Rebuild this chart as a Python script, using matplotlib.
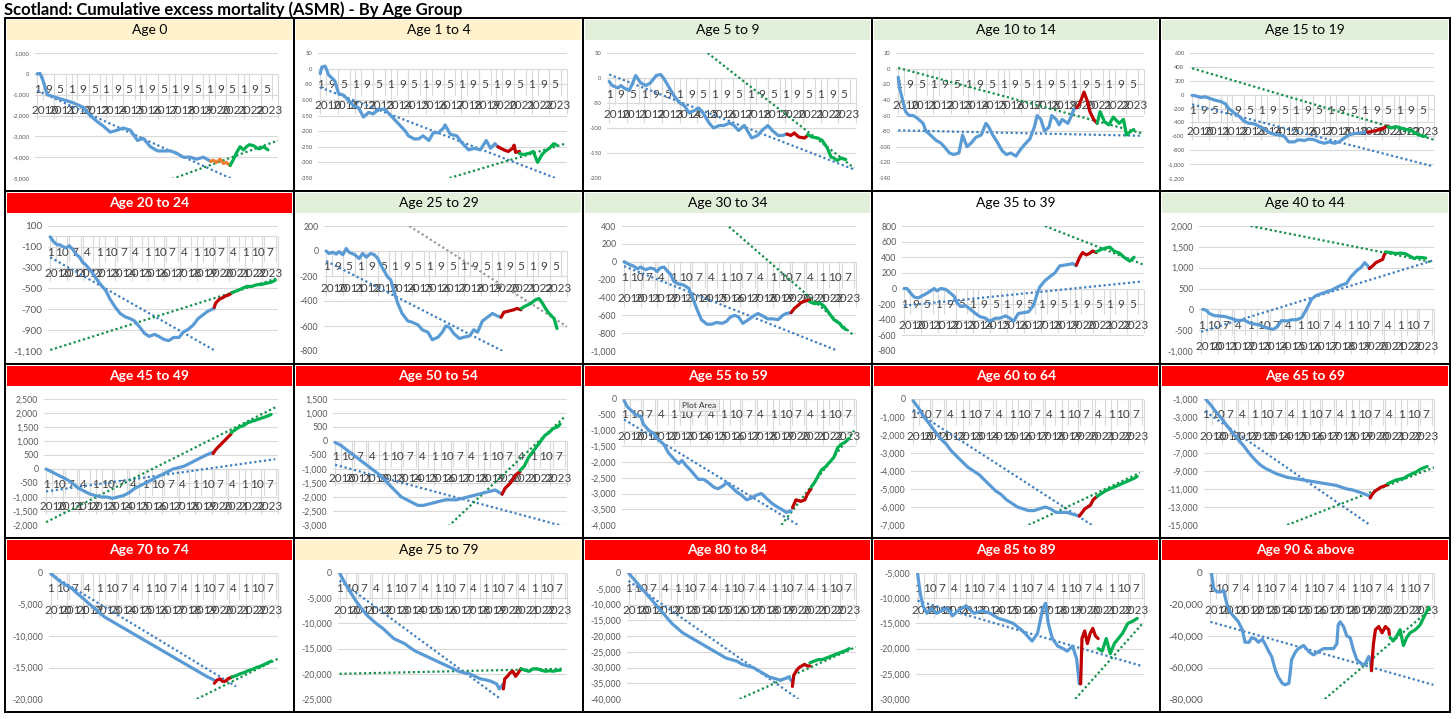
import matplotlib
matplotlib.use("Agg")
import matplotlib.pyplot as plt
from matplotlib.patches import Rectangle
from matplotlib.transforms import offset_copy

plt.rcParams["font.family"] = ["Lato", "DejaVu Sans"]

W, H, DPI = 1456, 719, 100
TITLE = "Scotland: Cumulative excess mortality (ASMR) - By Age Group"

# x values are months since Jan 2010 (weekly series in the original)
panels = [
    "Age 0", "Age 1 to 4", "Age 5 to 9", "Age 10 to 14", "Age 15 to 19",
    "Age 20 to 24", "Age 25 to 29", "Age 30 to 34", "Age 35 to 39", "Age 40 to 44",
    "Age 45 to 49", "Age 50 to 54", "Age 55 to 59", "Age 60 to 64", "Age 65 to 69",
    "Age 70 to 74", "Age 75 to 79", "Age 80 to 84", "Age 85 to 89", "Age 90 & above",
]

header_color = {
    "Age 0": "yellow", "Age 1 to 4": "yellow", "Age 5 to 9": "green",
    "Age 10 to 14": "green", "Age 15 to 19": "green",
    "Age 20 to 24": "red", "Age 25 to 29": "green", "Age 30 to 34": "green",
    "Age 35 to 39": "white", "Age 40 to 44": "green",
    "Age 45 to 49": "red", "Age 50 to 54": "red", "Age 55 to 59": "red",
    "Age 60 to 64": "red", "Age 65 to 69": "red",
    "Age 70 to 74": "red", "Age 75 to 79": "yellow", "Age 80 to 84": "red",
    "Age 85 to 89": "red", "Age 90 & above": "red",
}

# month interval of the category labels (8 -> "1 9 5", 9 -> "1 10 7 4")
label_interval = {
    "Age 0": 8, "Age 1 to 4": 8, "Age 5 to 9": 8, "Age 10 to 14": 8, "Age 15 to 19": 8,
    "Age 20 to 24": 9, "Age 25 to 29": 8, "Age 30 to 34": 9, "Age 35 to 39": 8,
    "Age 40 to 44": 9,
    "Age 45 to 49": 9, "Age 50 to 54": 9, "Age 55 to 59": 9, "Age 60 to 64": 9,
    "Age 65 to 69": 9,
    "Age 70 to 74": 9, "Age 75 to 79": 9, "Age 80 to 84": 9, "Age 85 to 89": 9,
    "Age 90 & above": 9,
}

# (top, bottom, step) of the value axis
yaxis = {
    "Age 0": (1000, -5000, 1000), "Age 1 to 4": (50, -350, 50),
    "Age 5 to 9": (50, -200, 50), "Age 10 to 14": (20, -140, 20),
    "Age 15 to 19": (600, -1200, 200),
    "Age 20 to 24": (100, -1100, 200), "Age 25 to 29": (200, -800, 200),
    "Age 30 to 34": (400, -1000, 200), "Age 35 to 39": (800, -800, 200),
    "Age 40 to 44": (2000, -1000, 500),
    "Age 45 to 49": (2500, -2000, 500), "Age 50 to 54": (1500, -3000, 500),
    "Age 55 to 59": (0, -4000, 500), "Age 60 to 64": (0, -7000, 1000),
    "Age 65 to 69": (-1000, -15000, 2000),
    "Age 70 to 74": (0, -20000, 5000), "Age 75 to 79": (0, -25000, 5000),
    "Age 80 to 84": (0, -40000, 5000), "Age 85 to 89": (-5000, -30000, 5000),
    "Age 90 & above": (0, -80000, 20000),
}

blue = {
    "Age 0": [(0, 0), (2, 20), (4, -300), (7, -1000), (11.6, -1100), (16, -1200), (21, -1300),
              (25.5, -1400), (32, -1600), (37, -2000), (42, -2300), (46, -2500), (51, -2800),
              (56, -2700), (60, -2600), (65, -2700), (70, -3200), (74, -3100), (79, -3500),
              (84, -3700), (88, -3700), (93, -3700), (97, -3800), (102, -4000), (107, -4000),
              (111, -4100), (116, -4000), (121, -4200)],
    "Age 1 to 4": [(0, -16), (1.1, 5), (3.4, 8), (5.7, -20), (8, -30), (10, -40), (12.5, -80),
                   (16, -85), (19, -100), (23, -120), (26, -125), (29.5, -155), (33, -140),
                   (36, -145), (40, -130), (44, -130), (48, -150), (51, -165), (54, -180),
                   (58, -200), (60, -215), (64, -225), (67, -225), (70, -215), (74, -230),
                   (77, -205), (80.5, -205), (84, -190), (85, -180), (88.5, -210), (93, -215),
                   (96, -235), (101, -260), (105, -255), (109, -260), (113, -230), (116, -255),
                   (119, -240), (121, -250)],
    "Age 5 to 9": [(0, -7), (2, -15), (6, -20), (8, -15), (10, -20), (13.6, -25), (16, -10),
                   (18, 5), (21.5, -10), (25, -15), (28, -10), (32, 5), (35, 7), (37, 0),
                   (41, -20), (44, -35), (48, -50), (51, -55), (54.5, -70), (58, -65), (61, -60),
                   (65, -75), (68, -90), (71, -100), (75, -95), (78, -95), (82, -90), (85, -95),
                   (88, -105), (92, -95), (95, -110), (97, -120), (101, -115), (104, -105),
                   (108, -95), (111, -105), (115, -115), (118, -115), (121, -112)],
    "Age 10 to 14": [(0, -11), (1, -25), (3, -40), (5, -55), (7.5, -60), (10, -60), (12, -62),
                     (14, -65), (17, -70), (19, -80), (22, -85), (26, -92), (29, -95),
                     (31.5, -100), (35, -108), (38, -110), (41.5, -108), (44, -85), (47, -100),
                     (50, -95), (53, -88), (56.7, -85), (60, -70), (62, -75), (64.6, -85),
                     (68, -95), (71, -105), (74, -110), (77, -108), (80.5, -112), (83, -105),
                     (86, -98), (90, -90), (93, -75), (95, -60), (97.5, -65), (100, -80),
                     (103, -75), (105, -60), (108, -65), (110, -72), (112, -65), (116, -70),
                     (118, -62), (120, -52), (122, -50)],
    "Age 15 to 19": [(0, -10), (2, -15), (6, -40), (9, -30), (13, -60), (16, -80), (20, -100),
                     (23, -130), (25.5, -200), (29, -260), (32.5, -310), (36, -380), (39, -410),
                     (43, -420), (46, -450), (50, -490), (53, -540), (57, -570), (60, -580),
                     (64, -600), (67, -680), (71, -680), (74, -650), (78, -660), (81, -640),
                     (85, -650), (88, -680), (92, -700), (95, -680), (99, -700), (102, -680),
                     (106, -620), (109, -580), (112.5, -560), (117, -550), (122, -540)],
    "Age 20 to 24": [(0, -5), (2.4, -50), (5, -80), (7, -80), (9.6, -100), (12, -110), (14, -90),
                     (17, -130), (19, -170), (21.6, -200), (24, -250), (26, -270), (30, -330),
                     (33.6, -400), (37, -460), (41, -520), (44, -600), (48, -680), (51.6, -740),
                     (55, -770), (59, -790), (62, -810), (66, -870), (69.5, -930), (73, -960),
                     (77, -940), (80, -960), (84, -990), (87.5, -1000), (91, -970), (95, -970),
                     (98, -920), (102, -890), (105.5, -850), (109, -790), (113, -750),
                     (116, -720), (121, -690)],
    "Age 25 to 29": [(0, 0), (2, -20), (4.6, -10), (7, -25), (9, -5), (11.6, -30), (14, 20),
                     (16, -10), (20, -30), (23, -60), (25.5, -20), (28, -50), (31, -20),
                     (33.6, -30), (36, -60), (39, -130), (43, -210), (45, -230), (47.5, -330),
                     (50, -420), (53, -500), (57, -560), (60, -570), (64, -590), (67, -630),
                     (71, -650), (74, -710), (78, -690), (81, -650), (83.5, -600), (86, -610),
                     (89, -660), (93, -700), (96, -690), (100, -680), (103, -630), (105.6, -650),
                     (109, -560), (112.5, -530), (116, -500), (119.5, -520), (122, -530)],
    "Age 30 to 34": [(0, 0), (3.6, -30), (7, -50), (9.6, -80), (12, -60), (15.6, -90), (19, -70),
                     (21.6, -80), (24, -110), (26, -70), (29, -60), (31, -100), (33.6, -140),
                     (36, -220), (39.5, -250), (43, -260), (47, -300), (50, -420), (53, -540),
                     (56, -650), (60, -700), (63.5, -700), (67, -680), (71, -690), (74, -670),
                     (77, -620), (80, -600), (83, -620), (86, -690), (90, -650), (93.5, -610),
                     (97, -580), (100.7, -610), (104, -640), (108, -640), (111.5, -650),
                     (115, -600), (117.5, -580), (121, -570)],
    "Age 35 to 39": [(0, 0), (2, 0), (4.6, -60), (7, -110), (10, -120), (14, -80), (17, -50),
                     (21, 0), (23, -30), (25.5, 0), (29, -10), (32.5, -60), (35, -100),
                     (37, -180), (39.5, -230), (43, -220), (46, -260), (50, -320), (53, -360),
                     (57, -380), (60, -420), (64, -380), (67, -380), (71, -350), (74, -380),
                     (76.6, -420), (80, -320), (83.5, -310), (87, -300), (90.5, -220), (93, -80),
                     (95, 20), (98.6, 100), (102, 150), (105.6, 200), (109, 290), (112.5, 300),
                     (116, 310), (118, 320), (120.6, 290)],
    "Age 40 to 44": [(1.2, 0), (3.6, -20), (6, -100), (9.5, -150), (13, -160), (16.7, -170),
                     (20, -200), (24, -240), (27, -280), (31, -250), (34.5, -320), (38, -350),
                     (41.7, -370), (45, -420), (49, -460), (52, -480), (55, -420), (58, -270),
                     (62, -280), (65.5, -250), (69, -250), (72.6, -200), (76, 0), (79.8, 250),
                     (83, 330), (87, 380), (90.5, 420), (94, 460), (97.6, 520), (101, 580),
                     (104.8, 620), (108, 780), (112, 920), (115.5, 1010), (118, 1120),
                     (120, 1050), (121.4, 980)],
    "Age 45 to 49": [(0, 0), (4, -100), (8, -200), (12, -300), (16, -400), (20, -550), (24, -700),
                     (28, -800), (32, -900), (36, -950), (40, -1000), (44, -1000), (48, -1050),
                     (52, -1000), (56, -950), (60, -850), (64, -700), (68, -600), (72, -500),
                     (76, -400), (80, -300), (84, -200), (88, -100), (92, 0), (96, 50),
                     (100, 100), (104, 200), (108, 300), (112, 400), (116, 500), (121, 600)],
    "Age 50 to 54": [(0, -50), (4, -150), (8, -300), (12, -450), (16, -600), (20, -750),
                     (24, -900), (28, -1050), (32, -1200), (36, -1400), (40, -1600), (44, -1800),
                     (48, -2000), (52, -2100), (56, -2200), (60, -2300), (64, -2300),
                     (68, -2250), (72, -2200), (76, -2150), (80, -2100), (84, -2100),
                     (88, -2100), (92, -2050), (96, -2000), (100, -1950), (104, -1900),
                     (108, -1850), (112, -1800), (116, -1750), (121, -1900)],
    "Age 55 to 59": [(0, -50), (2.4, -250), (4.8, -350), (8.4, -500), (12, -550), (14, -800),
                     (18, -1000), (21.6, -1100), (25, -1300), (29, -1450), (32, -1700),
                     (36, -1900), (39.6, -2050), (42, -1950), (44.6, -2100), (48, -2250),
                     (51.8, -2450), (54, -2550), (57.6, -2550), (61, -2650), (65, -2800),
                     (68, -2850), (72, -2750), (74, -2650), (78, -2800), (81.5, -2950),
                     (85, -3050), (88.7, -3200), (92, -3150), (96, -3050), (99.5, -3000),
                     (103, -3150), (106.7, -3300), (110, -3400), (114, -3500), (117.5, -3600),
                     (121, -3550)],
    "Age 60 to 64": [(0, -100), (4, -500), (8, -1000), (12, -1400), (16, -1800), (20, -2200),
                     (24, -2500), (28, -2900), (32, -3200), (36, -3500), (40, -3800),
                     (44, -4000), (48, -4200), (52, -4500), (56, -4800), (60, -5100),
                     (64, -5300), (68, -5600), (72, -5800), (76, -6000), (80, -6100),
                     (84, -6200), (88, -6200), (92, -6100), (96, -6000), (100, -6100),
                     (104, -6300), (108, -6300), (112, -6300), (116, -6400), (121, -6500)],
    "Age 65 to 69": [(0, -1000), (4, -1700), (8, -2500), (12, -3200), (16, -4000), (20, -4800),
                     (24, -5500), (28, -6200), (32, -7000), (36, -7700), (40, -8300),
                     (44, -8700), (48, -9000), (52, -9300), (56, -9500), (60, -9700),
                     (64, -9800), (68, -9900), (72, -10000), (76, -10100), (80, -10200),
                     (84, -10300), (88, -10400), (92, -10500), (96, -10600), (100, -10800),
                     (104, -11000), (108, -11100), (112, -11300), (116, -11500), (121, -11800)],
    "Age 70 to 74": [(0, 0), (4, -800), (8, -1500), (12, -2000), (16, -2500), (20, -3300),
                     (24, -4000), (28, -4800), (32, -5500), (36, -6300), (40, -7000),
                     (44, -7500), (48, -8000), (52, -8500), (56, -9000), (60, -9500),
                     (64, -10000), (68, -10500), (72, -11000), (76, -11500), (80, -12000),
                     (84, -12500), (88, -13000), (92, -13500), (96, -14000), (100, -14500),
                     (104, -15000), (108, -15500), (112, -16000), (116, -16500), (121, -17000)],
    "Age 75 to 79": [(0, 0), (4, -2000), (8, -3800), (12, -5500), (16, -7000), (20, -8300),
                     (24, -9300), (28, -10200), (32, -11000), (36, -12000), (40, -13000),
                     (44, -13500), (48, -14000), (52, -14800), (56, -15500), (60, -16000),
                     (64, -16500), (68, -17000), (72, -17500), (76, -18000), (80, -18500),
                     (84, -19000), (88, -19500), (92, -19800), (96, -20000), (100, -20500),
                     (104, -21000), (108, -21200), (112, -21500), (116, -22000), (118, -23000),
                     (121, -22000)],
    "Age 80 to 84": [(0, 0), (4, -2000), (8, -4000), (12, -6000), (16, -8000), (20, -10000),
                     (24, -12000), (28, -14000), (32, -16000), (36, -17500), (40, -19000),
                     (44, -20000), (48, -21000), (52, -22000), (56, -23000), (60, -24000),
                     (64, -25000), (68, -26000), (72, -27000), (76, -27500), (80, -28000),
                     (84, -29000), (88, -29500), (92, -30000), (96, -31000), (100, -32000),
                     (104, -33000), (108, -33500), (112, -34000), (116, -33500), (118, -33000),
                     (121, -34500)],
    "Age 85 to 89": [(0, -5000), (2, -9000), (4, -11500), (7, -13000), (10, -12000),
                     (14, -13000), (18, -12500), (22, -12000), (26, -13500), (30, -12500),
                     (36, -11500), (42, -13000), (48, -12500), (54, -13000), (60, -14000),
                     (66, -14500), (71, -15000), (78, -16500), (85, -18500), (89, -17000),
                     (93, -12000), (95, -11000), (97, -15000), (100, -18000), (104, -19500),
                     (108, -20000), (111, -20500), (115, -19500), (118, -22000), (120, -27000),
                     (121, -25000)],
    "Age 90 & above": [(0.8, 0), (2.5, -10000), (5, -12000), (7.5, -12000), (10, -11000),
                       (11, -15000), (12.5, -20000), (15, -25000), (19, -29000), (21, -31000),
                       (24, -36000), (26, -44000), (29, -44000), (31, -41000), (34, -42000),
                       (36, -44000), (39, -42000), (41, -45000), (44, -50000), (46, -53000),
                       (49, -62000), (51, -66000), (54, -70000), (56, -71000), (59, -70000),
                       (60, -63000), (61, -55000), (64, -50000), (66, -48000), (70, -46000),
                       (74, -50000), (77.5, -52000), (81, -50000), (85, -48000), (89, -48000),
                       (92.5, -48000), (95, -45000), (96, -33000), (97.5, -31000),
                       (100, -34000), (102.5, -40000), (105, -41000), (107.5, -49000),
                       (110, -55000), (114, -58000), (116, -58000), (119, -53000),
                       (120, -55000), (121, -62000)],
}

red = {
    "Age 0": [(121, -4200), (123, -4150), (125, -4250), (127.6, -4100), (130, -4300),
              (132, -4250), (134.6, -4400)],
    "Age 1 to 4": [(121, -250), (125, -260), (128, -265), (131, -255), (132, -245), (133, -268),
                   (135.6, -265)],
    "Age 5 to 9": [(121, -112), (123.6, -115), (126, -110), (129, -118), (133, -120),
                   (135, -115)],
    "Age 10 to 14": [(122, -50), (124, -45), (127, -30), (129, -40), (131, -55), (133.6, -65),
                     (136, -70)],
    "Age 15 to 19": [(122, -540), (125, -530), (129, -510), (131, -500), (133, -480),
                     (136, -450)],
    "Age 20 to 24": [(121, -680), (122, -640), (125, -600), (127, -590), (129.5, -570),
                     (132, -560), (134, -540)],
    "Age 25 to 29": [(122, -530), (124, -490), (127.6, -480), (131, -470), (133, -460),
                     (136, -470)],
    "Age 30 to 34": [(121, -570), (123.5, -520), (126, -490), (128, -460), (131, -440),
                     (134.5, -430)],
    "Age 35 to 39": [(120.6, 300), (123, 400), (125, 460), (127.6, 430), (130, 450),
                     (132, 480), (134.6, 460)],
    "Age 40 to 44": [(121.4, 980), (124, 1050), (126, 1120), (128.6, 1160), (131, 1200),
                     (132, 1300), (133, 1360)],
    "Age 45 to 49": [(121, 550), (123, 700), (125, 800), (127, 900), (129, 1000), (131, 1100),
                     (134, 1250)],
    "Age 50 to 54": [(121, -1900), (123, -1700), (125, -1600), (127, -1500), (129, -1350),
                     (131, -1200), (134, -1100)],
    "Age 55 to 59": [(122, -3450), (124.5, -3200), (128, -3250), (131, -3200), (133, -3000),
                     (135.5, -2850)],
    "Age 60 to 64": [(121, -6500), (123, -6300), (125, -6100), (127, -6000), (129, -5900),
                     (131, -5600), (134, -5400)],
    "Age 65 to 69": [(121, -12000), (123, -11500), (125, -11200), (127, -11000),
                     (129, -10800), (131, -10700), (134, -10500)],
    "Age 70 to 74": [(121, -17500), (123, -17000), (125, -16800), (127, -17200),
                     (129, -17200), (131, -16800), (134, -16500)],
    "Age 75 to 79": [(121, -23000), (122, -21000), (124, -20500), (126, -19800),
                     (128, -19500), (130, -20500), (132, -19800), (134, -19000)],
    "Age 80 to 84": [(121, -36000), (122, -32500), (124, -31000), (126, -30000),
                     (128, -29500), (130, -29000), (132, -29500), (134, -29500)],
    "Age 85 to 89": [(121, -27000), (122, -18000), (124, -16500), (126, -19000),
                     (128, -17000), (130, -16000), (132, -17500), (134, -18000)],
    "Age 90 & above": [(121, -62000), (122.5, -45000), (124, -36000), (126.5, -34000),
                       (129, -38000), (131.5, -34000), (134, -36000), (134.5, -39000)],
}

green = {
    "Age 0": [(134.6, -4400), (137, -4100), (139, -3800), (141.5, -3500), (144, -3650),
              (146, -3500), (148, -3400), (151, -3450), (153, -3550), (155, -3600),
              (158, -3500), (161, -3650)],
    "Age 1 to 4": [(135.6, -272), (138.5, -275), (143, -270), (145, -265), (148, -300),
                   (151, -275), (153, -265), (156, -255), (159, -240), (161, -245)],
    "Age 5 to 9": [(135, -113), (138, -118), (142, -120), (145, -125), (148.5, -140),
                   (151, -158), (153, -160), (155, -165), (158, -160), (161, -163)],
    "Age 10 to 14": [(136, -70), (138, -55), (141, -68), (144, -72), (147, -62), (151, -70),
                     (154, -65), (156, -85), (159, -80), (161, -78)],
    "Age 15 to 19": [(136, -460), (138, -480), (141.5, -460), (145, -480), (148.5, -500),
                     (152, -510), (155.5, -560), (159, -590), (162, -600)],
    "Age 20 to 24": [(134, -540), (138, -520), (141.5, -500), (145, -480), (148.7, -480),
                     (152, -465), (156, -460), (159.5, -450), (163, -440), (166, -420)],
    "Age 25 to 29": [(136, -460), (139, -440), (142.7, -420), (146, -390), (148.5, -380),
                     (151, -420), (153, -460), (155.5, -500), (159, -540), (161, -620)],
    "Age 30 to 34": [(134.5, -450), (138, -470), (141.5, -460), (145, -500), (148.7, -580),
                     (152, -650), (156, -690), (158, -730), (160.7, -760)],
    "Age 35 to 39": [(134.6, 470), (138, 500), (141.5, 520), (144, 530), (147, 480),
                     (151, 450), (154, 400), (158, 350), (160, 380), (161, 400)],
    "Age 40 to 44": [(133, 1380), (137, 1360), (140.5, 1340), (144, 1350), (147.6, 1330),
                     (151, 1270), (153.6, 1220), (156, 1250), (159.5, 1240), (162, 1230)],
    "Age 45 to 49": [(134, 1300), (137, 1400), (140, 1500), (143, 1550), (146, 1650),
                     (149, 1700), (152, 1750), (155, 1800), (158, 1850), (161, 1900),
                     (163, 1950)],
    "Age 50 to 54": [(134, -1050), (137, -900), (140, -600), (143, -400), (146, -200),
                     (149, 0), (152, 200), (155, 300), (158, 450), (161, 500), (163, 600)],
    "Age 55 to 59": [(135.5, -2800), (138, -2650), (140.5, -2450), (143, -2250), (146, -2150),
                     (150, -1950), (152, -1850), (154.7, -1550), (157, -1450),
                     (160.7, -1350), (163, -1250)],
    "Age 60 to 64": [(134, -5400), (137, -5250), (140, -5100), (143, -5000), (146, -4900),
                     (149, -4800), (152, -4700), (155, -4600), (158, -4500), (161, -4400),
                     (163, -4300)],
    "Age 65 to 69": [(134, -10400), (137, -10200), (140, -10000), (143, -9900), (146, -9800),
                     (149, -9500), (152, -9300), (155, -9100), (158, -8800), (161, -8600),
                     (163, -8500)],
    "Age 70 to 74": [(134, -16500), (137, -16300), (140, -16000), (143, -15800),
                     (146, -15500), (149, -15300), (152, -15000), (155, -14800),
                     (158, -14500), (161, -14200), (163, -14000)],
    "Age 75 to 79": [(134, -19000), (137, -19300), (140, -19500), (143, -19000),
                     (146, -19000), (149, -19300), (152, -19500), (155, -19400),
                     (158, -19500), (161, -19300), (163, -19300)],
    "Age 80 to 84": [(134, -28500), (137, -28000), (140, -27500), (143, -27500),
                     (146, -27000), (149, -26500), (152, -26000), (155, -25500),
                     (158, -25000), (161, -24500), (163, -24000)],
    "Age 85 to 89": [(134, -20000), (137, -20500), (140, -18000), (143, -21000),
                     (146, -19000), (149, -18000), (152, -17000), (156, -15000),
                     (160, -14500), (163, -14000)],
    "Age 90 & above": [(135, -41000), (137.5, -43000), (140, -40000), (142.5, -36000),
                       (145, -46000), (147.5, -41000), (150, -38000), (154, -36000),
                       (157.5, -33000), (161, -27000), (164, -22000)],
}

# linear trend lines, (start, end) as (month, value)
trend_blue = {
    "Age 0": [(0, -800), (136, -5050)], "Age 1 to 4": [(0, -60), (160, -350)],
    "Age 5 to 9": [(0, 7), (166.7, -183)], "Age 10 to 14": [(0, -79), (167, -86)],
    "Age 15 to 19": [(0, -140), (167, -1030)],
    "Age 20 to 24": [(0, -200), (122, -1100)], "Age 25 to 29": [(0, -80), (123, -800)],
    "Age 30 to 34": [(0, -50), (153.5, -990)], "Age 35 to 39": [(0, -220), (167, 90)],
    "Age 40 to 44": [(0, -540), (167, 1170)],
    "Age 45 to 49": [(0, -800), (166, 350)], "Age 50 to 54": [(0, -850), (166, -3050)],
    "Age 55 to 59": [(0, -650), (126, -4000)], "Age 60 to 64": [(0, -600), (130, -7000)],
    "Age 65 to 69": [(0, -2400), (121, -15000)],
    "Age 70 to 74": [(0, -200), (137, -18000)], "Age 75 to 79": [(0, -1500), (119, -25000)],
    "Age 80 to 84": [(0, -2500), (125.5, -40000)],
    "Age 85 to 89": [(0, -10500), (167, -23500)],
    "Age 90 & above": [(0, -31000), (167.5, -71000)],
}

trend_green = {
    "Age 0": [(94, -5050), (168, -3200)], "Age 1 to 4": [(88, -350), (167, -240)],
    "Age 5 to 9": [(67, 50), (166.7, -180)], "Age 10 to 14": [(0, 1), (167, -83)],
    "Age 15 to 19": [(0, 380), (168, -650)],
    "Age 20 to 24": [(0, -1090), (168, -400)], "Age 25 to 29": [(58, 200), (168, -605)],
    "Age 30 to 34": [(68, 500), (166.7, -830)], "Age 35 to 39": [(98.6, 800), (167, 310)],
    "Age 40 to 44": [(35.7, 2000), (167, 1130)],
    "Age 45 to 49": [(0, -1900), (166, 2200)], "Age 50 to 54": [(82, -3050), (166, 850)],
    "Age 55 to 59": [(114, -4000), (166.7, -1000)], "Age 60 to 64": [(84, -7000), (165, -4100)],
    "Age 65 to 69": [(60, -15000), (168, -8600)],
    "Age 70 to 74": [(108, -20000), (169, -13500)], "Age 75 to 79": [(0, -20000), (165, -19000)],
    "Age 80 to 84": [(82, -40000), (168, -23500)], "Age 85 to 89": [(117, -30000), (167, -15000)],
    "Age 90 & above": [(86, -80000), (166, -22500)],
}

years = list(range(2010, 2024))

# ---------------------------------------------------------------- styling
C_BLUE = "#5B9BD5"
C_RED = "#C00000"
C_GREEN = "#00B050"
C_ORANGE = "#ED7D31"
C_TBLUE = "#3F7FC0"
C_TGREEN = "#14904A"
C_GRID = "#D9D9D9"
C_TXT = "#595959"
C_CAT = "#404040"
HEADER_FILL = {"yellow": "#FFF2CC", "green": "#E2EFDA", "red": "#FF0000", "white": "#FFFFFF"}

col_edges = [5, 294, 583, 872, 1160, 1450]
row_edges = [18, 191, 364, 538, 712]

fig = plt.figure(figsize=(W / DPI, H / DPI), dpi=DPI)
fig.patch.set_facecolor("white")


def fx(x):
    return x / W


def fy(y):
    return 1 - y / H


fig.text(fx(4), fy(10), TITLE, fontsize=12, fontweight="bold", ha="left", va="center")

for i, name in enumerate(panels):
    r, c = divmod(i, 5)
    x0, x1 = col_edges[c], col_edges[c + 1]
    y0, y1 = row_edges[r], row_edges[r + 1]

    fig.patches.append(Rectangle((fx(x0), fy(y1)), (x1 - x0) / W, (y1 - y0) / H,
                                 transform=fig.transFigure, fc="white", ec="black",
                                 lw=1.4, zorder=-3))
    kind = header_color[name]
    fig.patches.append(Rectangle((fx(x0 + 2), fy(y0 + 22)), (x1 - x0 - 4) / W, 20 / H,
                                 transform=fig.transFigure, fc=HEADER_FILL[kind],
                                 ec="none", zorder=-2))
    fig.text(fx((x0 + x1) / 2), fy(y0 + 12), name, ha="center", va="center",
             fontsize=10, color="white" if kind == "red" else "black",
             fontweight="bold" if kind == "red" else "normal", zorder=2)

    top, bot, step = yaxis[name]
    ticks = list(range(top, bot - 1, -step))
    tick_labels = [f"{t:,}" for t in ticks]
    nchar = max(len(s) for s in tick_labels)
    if r == 0:
        ysize, inset = 4.2, 12 + 3.0 * nchar
    elif name in ("Age 20 to 24", "Age 90 & above"):
        ysize, inset = 7.2, 12 + 5.2 * nchar
    else:
        ysize, inset = 6.3, 12 + 4.5 * nchar

    left, right = x0 + inset, x1 - 16
    ptop, pbot = y0 + 35, y1 - 13
    ax = fig.add_axes([fx(left), fy(pbot), (right - left) / W, (pbot - ptop) / H])
    ax.set_xlim(-1.5, 168)
    ax.set_ylim(bot, top)
    ax.set_yticks(ticks)
    ax.set_yticklabels(tick_labels, fontsize=ysize, color=C_TXT)
    ax.set_xticks([])
    ax.tick_params(axis="y", length=0, pad=4)
    for sp in ax.spines.values():
        sp.set_visible(False)
    ax.yaxis.grid(True, color=C_GRID, lw=0.8)
    ax.set_axisbelow(True)
    ax.patch.set_alpha(0)

    # horizontal category axis crosses at 0 (or the top when all values are negative)
    cross = min(max(0, bot), top)
    y_px = ax.transData.transform((0, cross))[1]
    inv = ax.transData.inverted()
    y_long = inv.transform((0, y_px - 45))[1]
    y_short = inv.transform((0, y_px - 26))[1]

    step_m = label_interval[name]
    names_m = ["1", "9", "5"] if step_m == 8 else ["1", "10", "7", "4"]
    ax.vlines([12 * k for k in range(len(years) + 1)], y_long, cross, color=C_GRID,
              lw=0.8, zorder=1, clip_on=False)
    ax.vlines([step_m * k + step_m / 2 for k in range(int(162 / step_m) + 1)], y_short,
              cross, color=C_GRID, lw=0.8, zorder=1, clip_on=False)
    ax.axhline(cross, color=C_GRID, lw=0.8, zorder=1)

    t_lab = offset_copy(ax.transData, fig=fig, x=0, y=-16, units="dots")
    t_year = offset_copy(ax.transData, fig=fig, x=0, y=-37, units="dots")
    for k in range(int(162 / step_m) + 1):
        ax.text(step_m * k, cross, names_m[k % len(names_m)], transform=t_lab,
                ha="center", va="center", fontsize=8.5, color=C_CAT, zorder=2)
    for k, yr in enumerate(years):
        ax.text(12 * k + 5.5, cross, str(yr), transform=t_year, ha="center", va="center",
                fontsize=8.5, color=C_CAT, zorder=2)

    # trend lines
    tb = trend_blue[name]
    ax.plot([p[0] for p in tb], [p[1] for p in tb], color=C_TBLUE, lw=1.6,
            ls=(0, (1, 1.2)), zorder=3)
    tg = trend_green[name]
    ax.plot([p[0] for p in tg], [p[1] for p in tg],
            color="#9A9A9A" if name == "Age 25 to 29" else C_TGREEN, lw=1.6,
            ls=(0, (1, 1.2)), zorder=3)

    # series
    for series, col in ((blue, C_BLUE), (red, C_ORANGE if name == "Age 0" else C_RED),
                        (green, C_GREEN)):
        pts = series[name]
        ax.plot([p[0] for p in pts], [p[1] for p in pts], color=col, lw=2.3,
                solid_joinstyle="round", solid_capstyle="round", zorder=4)

fig.text(fx(699), fy(405), "Plot Area", fontsize=6, ha="center", va="center", color="#333333",
         bbox=dict(boxstyle="square,pad=0.35", fc="#EFEFEF", ec="#C8C8C8", lw=0.5), zorder=10)

fig.savefig("out.png", dpi=DPI, facecolor="white")
